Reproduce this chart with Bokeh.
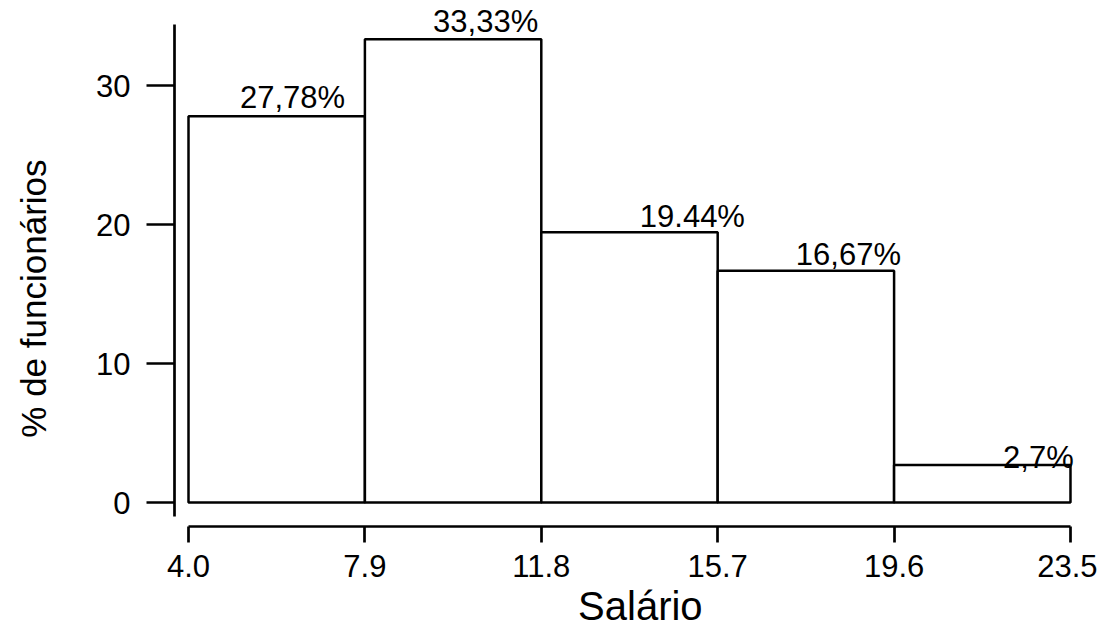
import math
from bokeh.plotting import figure
from bokeh.models import (ColumnDataSource, Range1d, LinearAxis, FixedTicker,
                          PrintfTickFormatter, Label)
from bokeh.embed import file_html
from bokeh.resources import INLINE
from bokeh.core.properties import value

# ---- data ----
breaks = [4.0, 7.9, 11.8, 15.7, 19.6, 23.5]
percent = [27.78, 33.33, 19.44, 16.67, 2.70]
bar_labels = ["27,78%", "33,33%", "19.44%", "16,67%", "2,7%"]
label_x = [6.30, 10.57, 15.14, 18.59, 22.79]
label_y = [28.35, 33.83, 19.80, 17.09, 2.49]   # text baselines
y_ticks = [0, 10, 20, 30]
x_title = "Salário"
y_title = "% de funcionários"

FONT = "Liberation Sans"
W, H = 1097, 628
Y_PX = 13.9          # pixels per percentage point
X_PX = 45.23         # pixels per salary unit
Y0_PX = 502          # screen row of y = 0
X0_PX = 188          # screen column of x = 4.0
LABEL_SIZE = 31
MID = 0.3465         # box middle above the baseline, in em

y_top = Y0_PX / Y_PX
y_bot = -(H - Y0_PX) / Y_PX
x_lo = breaks[0] - X0_PX / X_PX
x_hi = x_lo + W / X_PX

bars = ColumnDataSource(dict(left=breaks[:-1], right=breaks[1:], top=percent,
                             bottom=[0] * len(percent)))
labels = ColumnDataSource(dict(
    x=label_x,
    y=[v + MID * LABEL_SIZE / Y_PX for v in label_y],
    text=bar_labels))

p = figure(width=W, height=H,
           x_range=Range1d(x_lo, x_hi), y_range=Range1d(y_bot, y_top),
           min_border_left=0, min_border_right=0, min_border_top=0,
           min_border_bottom=0,
           x_axis_location=None, y_axis_location=None,
           toolbar_location=None, output_backend="svg")
p.outline_line_color = None
p.xgrid.visible = False
p.ygrid.visible = False
p.background_fill_color = "white"
p.border_fill_color = "white"

p.quad(left="left", right="right", top="top", bottom="bottom", source=bars,
       fill_color="white", line_color="black", line_width=2.5)

p.text(x="x", y="y", text="text", source=labels, text_align="center",
       text_baseline="middle", text_font=value(FONT),
       text_font_size=f"{LABEL_SIZE}px", text_color="black")

xaxis = LinearAxis(ticker=FixedTicker(ticks=breaks),
                   formatter=PrintfTickFormatter(format="%.1f"),
                   bounds=(breaks[0], breaks[-1]),
                   fixed_location=-24 / Y_PX)
yaxis = LinearAxis(ticker=FixedTicker(ticks=y_ticks), bounds=(-1.0, 34.4),
                   fixed_location=breaks[0] - 14 / X_PX)
for ax in (xaxis, yaxis):
    ax.axis_line_width = 2.7
    ax.axis_line_color = "black"
    ax.major_tick_line_width = 2.7
    ax.major_tick_line_color = "black"
    ax.minor_tick_line_color = None
    ax.major_tick_in = 0
    ax.major_label_text_font = FONT
    ax.major_label_text_font_size = "31px"
    ax.major_label_text_color = "black"
xaxis.major_tick_out = 16
xaxis.major_label_standoff = 12
yaxis.major_tick_out = 28
yaxis.major_label_standoff = 16
p.add_layout(xaxis, "below")
p.add_layout(yaxis, "left")

# axis titles (anchored at their box middles)
p.add_layout(Label(x=13.99, y=-(619 - MID * 40 - Y0_PX) / Y_PX, text=x_title,
                   text_align="center", text_baseline="middle",
                   text_font=FONT, text_font_size="40px", text_color="black"))
p.add_layout(Label(x=breaks[0] + (45 - MID * 35 - X0_PX) / X_PX, y=14.67,
                   text=y_title, angle=math.pi / 2,
                   text_align="center", text_baseline="middle",
                   text_font=FONT, text_font_size="35px", text_color="black"))

open("out.html", "w").write(file_html(p, INLINE))
